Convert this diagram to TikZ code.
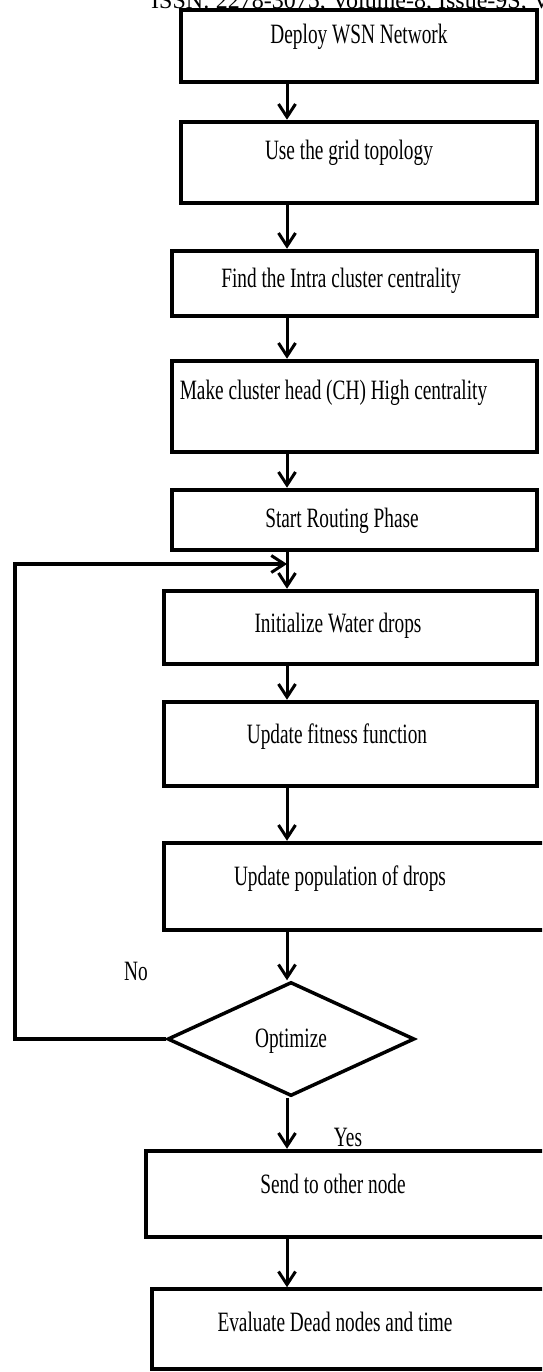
\documentclass[tikz,border=0pt]{standalone}
\usepackage{fontspec}
\setmainfont{Liberation Serif}[FakeStretch=0.69]
\newfontfamily\hdrfont{Liberation Serif}
\usetikzlibrary{arrows.meta,shapes.geometric}

\tikzset{
    box/.style={draw, line width=4.5pt, rectangle, inner sep=0pt, text height=20pt},
    decide/.style={draw, line width=3.5pt, diamond, aspect=2.2, inner sep=0pt},
    tshift/.style={execute at begin node={\hspace*{#1}}},
    arr/.style={line width=3pt, -{Straight Barb[length=13pt,width=17pt,line width=3pt]}},
    lbl/.style={inner sep=0pt, anchor=base}
}

\begin{document}
\begin{tikzpicture}[x=1pt,y=-1pt,font=\fontsize{28}{30}\selectfont]
            \useasboundingbox (0,0) rectangle (542,1372);
            \clip (0,0) rectangle (542,1372);
            \node[anchor=base west,inner sep=0pt,font=\hdrfont\fontsize{24}{26}\selectfont] (hdr) at (151,9) {ISSN: 2278-3075, Volume-8, Issue-9S, Volume};
            % steps, text pushed up with text depth
            \node[box, minimum width=356pt, minimum height=72pt, text depth=24pt] (b1) at (359,46) {Deploy WSN Network};
            \node[box, minimum width=356pt, minimum height=81pt, text depth=25pt, tshift=-20pt] (b2) at (359,162.5) {Use the grid topology};
            \node[box, minimum width=365pt, minimum height=65pt, text depth=12pt, tshift=-27pt] (b3) at (354.5,283.5) {Find the Intra cluster centrality};
            \node[box, minimum width=365pt, minimum height=91pt, text depth=34pt, tshift=-42pt] (b4) at (354.5,406.5) {Make cluster head (CH) High centrality};
            \node[box, minimum width=365pt, minimum height=60pt, text depth=6pt, tshift=-25pt] (b5) at (354.5,520) {Start Routing Phase};
            \node[box, minimum width=373pt, minimum height=73pt, text depth=11pt, tshift=-25pt] (b6) at (350.5,627.5) {Initialize Water drops};
            \node[box, minimum width=373pt, minimum height=84pt, text depth=22pt, tshift=-27pt] (b7) at (350.5,744) {Update fitness function};
            \node[box, minimum width=384pt, minimum height=87pt, text depth=22pt, tshift=-32pt] (b8) at (356,886.5) {Update population of drops};
            \node[decide, minimum width=247pt, minimum height=114pt, text depth=2pt] (opt) at (291,1039) {Optimize};
            \node[box, minimum width=402pt, minimum height=86pt, text depth=22pt, tshift=-28pt] (b9) at (347,1194) {Send to other node};
            \node[box, line width=3.5pt, minimum width=396pt, minimum height=80pt, text depth=16pt, tshift=-30pt] (b10) at (350,1329) {Evaluate Dead nodes and time};
            \node[lbl] (no) at (136,980) {No};
            \node[lbl] (yes) at (348,1146) {Yes};
            % connectors
            \coordinate (ax) at (287,0);
            \foreach \a/\b in {b1/b2, b2/b3, b3/b4, b4/b5, b5/b6, b6/b7, b7/b8, b8/opt, opt/b9, b9/b10}
                \draw[arr] (\a.south -| ax) -- (\b.north -| ax);
            \coordinate (lp) at (15,564);
            \draw[arr, line width=4pt] (opt.west) -- (opt.west -| lp) -- (lp) -- (lp -| ax);
        \end{tikzpicture}
\end{document}
